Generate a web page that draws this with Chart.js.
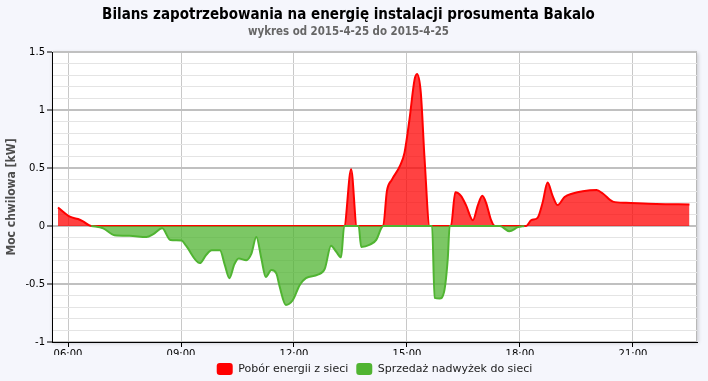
<!DOCTYPE html>
<html>
<head>
<meta charset="utf-8">
<script src="https://cdn.jsdelivr.net/npm/chart.js@4/dist/chart.umd.min.js"></script>
<style>
html,body{margin:0;padding:0;background:#F5F6FC;}
#wrap{width:708px;height:381px;}
</style>
</head>
<body>
<div id="wrap"><canvas id="c" width="708" height="381"></canvas></div>
<script>
// ---- data ----
const times = [
  '05:44','06:03','06:16','06:24','06:37','06:56','07:14','07:38','08:05','08:16',
  '08:30','08:43','09:01','09:08','09:30','09:40','09:49','10:02','10:10','10:17',
  '10:25','10:32','10:44','10:52','11:00','11:08','11:15','11:24','11:32','11:37',
  '11:47','11:58','12:09','12:19','12:38','12:49','12:59','13:07','13:15','13:20',
  '13:31','13:40','13:43','13:47','14:01','14:11','14:19','14:22','14:28','14:36',
  '14:49','14:56','15:04','15:12','15:16','15:22','15:28','15:36','15:40','15:44',
  '15:52','15:59','16:05','16:08','16:10','16:17','16:26','16:34','16:45','16:53',
  '17:00','17:06','17:14','17:20','17:28','17:43','17:57','18:07','18:10','18:18',
  '18:28','18:36','18:44','18:52','19:00','19:11','19:24','19:40','20:02','20:12',
  '20:28','20:49','21:37','22:30'
];
const pobor = [
  0.16, 0.08, 0.06, 0.04, 0, 0, 0, 0, 0, 0,
  0, 0, 0, 0, 0, 0, 0, 0, 0, 0,
  0, 0, 0, 0, 0, 0, 0, 0, 0, 0,
  0, 0, 0, 0, 0, 0, 0, 0, 0, 0,
  0.49, 0, 0, 0, 0, 0, 0, 0, 0.30, 0.40,
  0.52, 0.63, 0.92, 1.26, 1.31, 1.15, 0.58, 0, 0, 0,
  0, 0, 0, 0, 0, 0.29, 0.26, 0.18, 0.05, 0.18,
  0.26, 0.20, 0.05, 0, 0, 0, 0, 0, 0, 0.05,
  0.07, 0.20, 0.375, 0.26, 0.18, 0.25, 0.28, 0.30, 0.31, 0.28,
  0.21, 0.20, 0.19, 0.185
];
const sprzedaz = [
  null, null, null, null, 0, -0.02, -0.08, -0.085, -0.095, -0.07,
  -0.02, -0.12, -0.125, -0.17, -0.32, -0.25, -0.21, -0.21, -0.34, -0.45,
  -0.33, -0.28, -0.295, -0.24, -0.095, -0.28, -0.44, -0.38, -0.41, -0.52,
  -0.68, -0.64, -0.51, -0.45, -0.42, -0.37, -0.17, -0.22, -0.27, 0,
  0, 0, 0, -0.18, -0.16, -0.12, -0.02, 0, 0, 0,
  0, 0, 0, 0, 0, 0, 0, 0, 0, -0.62,
  -0.625, -0.57, -0.28, 0, 0, 0, 0, 0, 0, 0,
  0, 0, 0, 0, 0, -0.045, -0.01, 0, null, null,
  null, null, null, null, null, null, null, null, null, null,
  null, null, null, null
];
const seriesNames = ['Pobór energii z sieci', 'Sprzedaż nadwyżek do sieci'];
const xTickLabels = ['06:00', '09:00', '12:00', '15:00', '18:00', '21:00'];
const yTickLabels = ['-1', '-0.5', '0', '0.5', '1', '1.5'];
const titleText = 'Bilans zapotrzebowania na energię instalacji prosumenta Bakalo';
const subtitleText = 'wykres od 2015-4-25 do 2015-4-25';
const yAxisTitle = 'Moc chwilowa [kW]';

// ---- helpers ----
const toH = s => { const [h, m] = s.split(':').map(Number); return h + m / 60; };
const F = "'DejaVu Sans', sans-serif";
const FC = "'DejaVu Sans Condensed', 'DejaVu Sans', sans-serif";
const yMajors = yTickLabels.map(parseFloat);
const isMajor = v => yMajors.some(m => Math.abs(m - v) < 1e-6);

const bgPlugin = {
  id: 'bgPlot',
  beforeDraw(chart) {
    const { ctx, chartArea: a, width, height } = chart;
    ctx.save();
    ctx.fillStyle = '#F5F6FC';
    ctx.fillRect(0, 0, width, height);
    ctx.shadowColor = 'rgba(0,0,0,0.2)';
    ctx.shadowBlur = 4;
    ctx.shadowOffsetX = 1;
    ctx.shadowOffsetY = 1;
    ctx.fillStyle = '#FFFFFF';
    ctx.fillRect(a.left, a.top, a.width, a.height);
    ctx.restore();
    ctx.save();
    ctx.strokeStyle = '#B8B8B8';
    ctx.lineWidth = 1;
    ctx.strokeRect(a.left + 0.5, a.top + 0.5, a.width - 1, a.height - 1);
    ctx.restore();
  }
};

const mk = arr => times.map((t, i) => ({ x: toH(t), y: arr[i] }));

new Chart(document.getElementById('c'), {
  type: 'line',
  data: {
    datasets: [
      {
        label: seriesNames[0],
        data: mk(pobor),
        borderColor: '#FF0000',
        backgroundColor: 'rgba(255,0,0,0.74)',
        fill: 'origin',
        borderWidth: 2,
        pointRadius: 0,
        tension: 0.4,
        cubicInterpolationMode: 'monotone',
        order: 1
      },
      {
        label: seriesNames[1],
        data: mk(sprzedaz),
        borderColor: '#50B432',
        backgroundColor: 'rgba(80,180,50,0.75)',
        fill: 'origin',
        borderWidth: 2,
        pointRadius: 0,
        tension: 0.4,
        cubicInterpolationMode: 'monotone',
        spanGaps: false,
        order: 0
      }
    ]
  },
  options: {
    responsive: false,
    devicePixelRatio: 1,
    animation: false,
    events: [],
    layout: { padding: { left: 0, right: 11, top: 0, bottom: -4 }, autoPadding: false },
    scales: {
      x: {
        type: 'linear',
        min: 5.575,
        max: 22.70,
        afterFit: s => { s.height = 13; },
        afterBuildTicks: s => { s.ticks = xTickLabels.map(l => ({ value: toH(l) })); },
        ticks: {
          autoSkip: false,
          maxRotation: 0,
          padding: 1,
          color: '#000',
          font: { family: F, size: 10 },
          callback: (v, i) => xTickLabels[i]
        },
        grid: { color: '#C8C8C8', lineWidth: 1, tickLength: 5, tickColor: '#000', tickWidth: 1 },
        border: { display: true, color: '#000', width: 1 }
      },
      y: {
        type: 'linear',
        min: -1,
        max: 1.5,
        afterFit: s => { s.width = 52; },
        afterBuildTicks: s => {
          const t = [];
          for (let k = -10; k <= 15; k++) t.push({ value: k / 10 });
          s.ticks = t;
        },
        ticks: {
          autoSkip: false,
          padding: 2,
          color: '#000',
          font: { family: F, size: 10 },
          callback: v => {
            const idx = yMajors.findIndex(m => Math.abs(m - v) < 1e-6);
            return idx >= 0 ? yTickLabels[idx] : '';
          }
        },
        grid: {
          color: c => isMajor(c.tick.value) ? '#C0C0C0' : '#E4E4E4',
          lineWidth: c => isMajor(c.tick.value) ? 2 : 1,
          tickLength: 5,
          tickWidth: 1,
          tickColor: c => isMajor(c.tick.value) ? '#000' : 'rgba(0,0,0,0)'
        },
        border: { display: true, color: '#000', width: 1 },
        title: {
          display: true,
          text: yAxisTitle,
          color: '#4D4D4D',
          font: { family: FC, size: 12, weight: 'bold' },
          padding: { top: 4.5, bottom: 0 }
        }
      }
    },
    plugins: {
      title: {
        display: true,
        text: titleText,
        color: '#000',
        font: { family: FC, size: 15, weight: 'bold', lineHeight: 1.2 },
        padding: { top: 6, bottom: 1 }
      },
      subtitle: {
        display: true,
        text: subtitleText,
        color: '#666666',
        font: { family: FC, size: 11.4, weight: 'bold', lineHeight: 1.2 },
        padding: { top: 0, bottom: 13.32 }
      },
      legend: {
        display: true,
        position: 'bottom',
        fullSize: false,
        labels: {
          boxWidth: 16,
          boxHeight: 12,
          padding: 8,
          color: '#222',
          font: { family: F, size: 11 },
          useBorderRadius: true,
          sort: (a, b) => a.datasetIndex - b.datasetIndex,
          generateLabels: chart => {
            const items = Chart.defaults.plugins.legend.labels.generateLabels(chart);
            items.forEach(it => {
              const ds = chart.data.datasets[it.datasetIndex];
              it.fillStyle = ds.borderColor;
              it.strokeStyle = ds.borderColor;
              it.lineWidth = 0;
              it.borderRadius = 3;
            });
            return items;
          }
        }
      },
      tooltip: { enabled: false }
    }
  },
  plugins: [bgPlugin]
});
</script>
</body>
</html>
